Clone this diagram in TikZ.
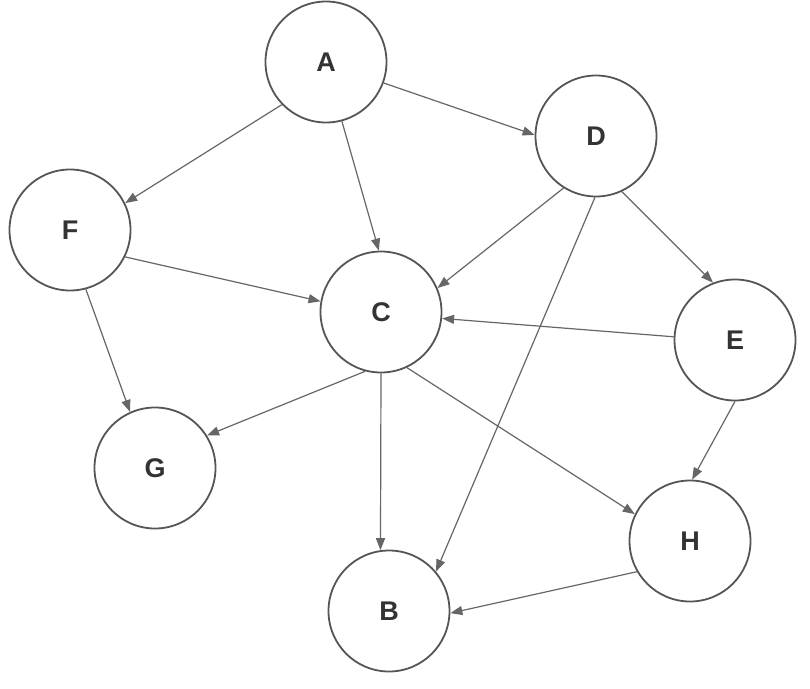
\documentclass[tikz,border=0pt]{standalone}
\usepackage{fontspec}
\setmainfont{Liberation Sans}
\usetikzlibrary{arrows.meta}
\definecolor{edgec}{HTML}{666666}
\definecolor{circc}{HTML}{555555}
\definecolor{txtc}{HTML}{333333}
\begin{document}
\begin{tikzpicture}[x=1pt,y=-1pt,
  vtx/.style={circle,draw=circc,line width=1.8pt,fill=white,minimum size=121pt,inner sep=0pt,
    font=\fontsize{27}{30}\selectfont\bfseries,text=txtc},
  edge/.style={draw=edgec,line width=1.2pt,-{Triangle[length=12pt,width=9pt]}}]
\useasboundingbox[fill=white] (0,0) rectangle (810,688);
\node[vtx] (A) at (326,62) {A};
\node[vtx] (D) at (596,136) {D};
\node[vtx] (F) at (70,230) {F};
\node[vtx] (C) at (381,312) {C};
\node[vtx] (E) at (735,340) {E};
\node[vtx] (G) at (155,468) {G};
\node[vtx] (H) at (690,541) {H};
\node[vtx] (B) at (389,611) {B};
\draw[edge] (A.224) -- (F.26);
\draw[edge] (A.285) -- (C.92);
\draw[edge] (A.340) -- (D.179);
\draw[edge] (D.238) -- (C.23);
\draw[edge] (D.269) -- (B.40);
\draw[edge] (D.295) -- (E.111);
\draw[edge] (F.334) -- (C.170);
\draw[edge] (F.285) -- (G.114);
\draw[edge] (C.255) -- (G.32);
\draw[edge] (C.270) -- (B.98);
\draw[edge] (C.295) -- (H.154);
\draw[edge] (E.177) -- (C.354);
\draw[edge] (E.270) -- (H.88);
\draw[edge] (H.210) -- (B.358);
\end{tikzpicture}
\end{document}
